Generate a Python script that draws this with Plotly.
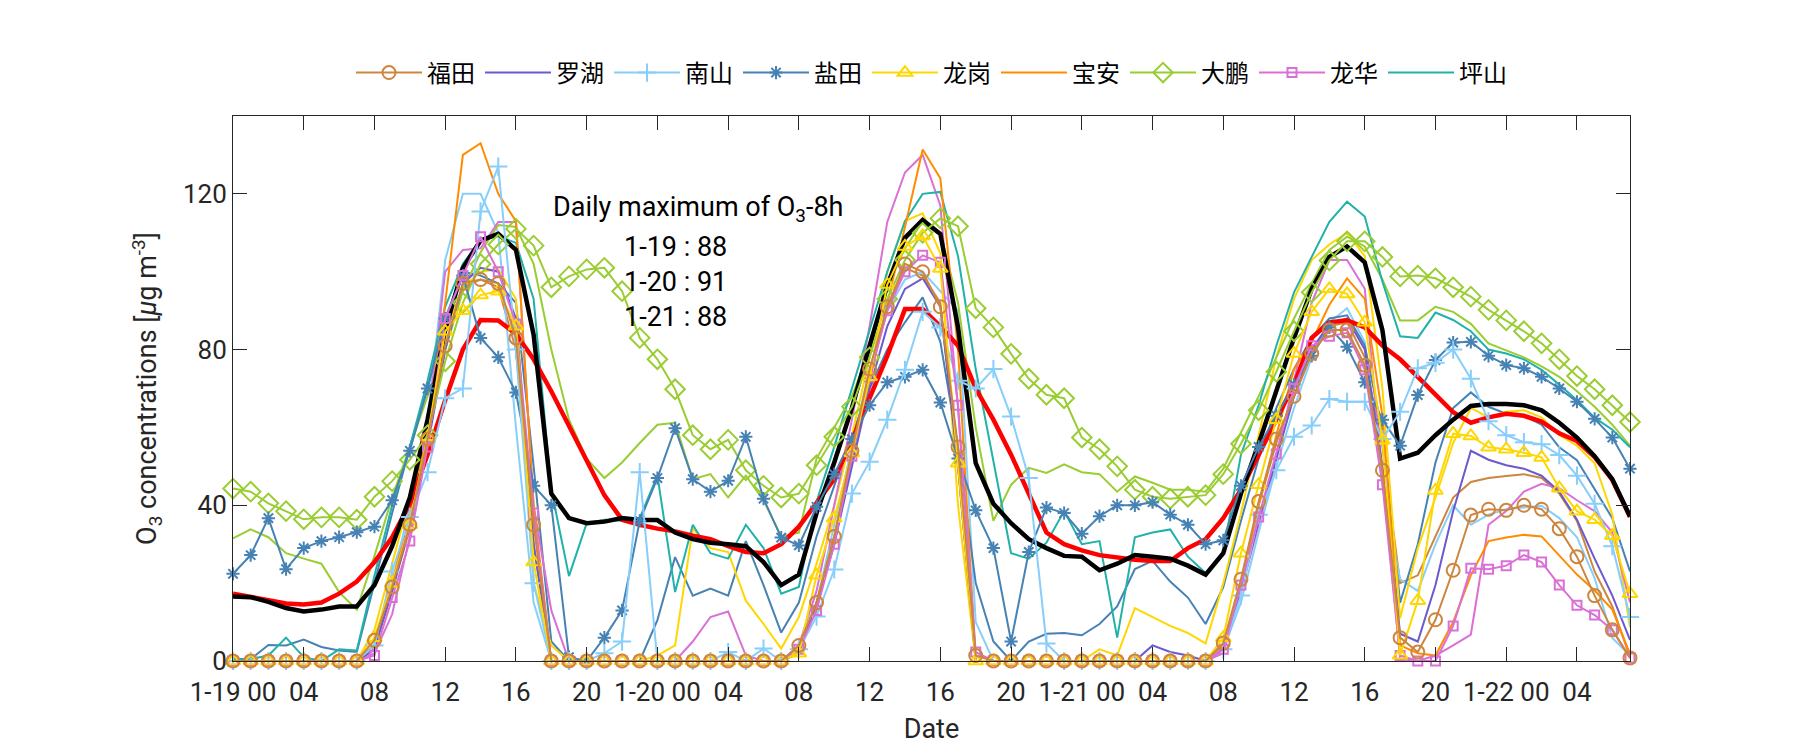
import plotly.graph_objects as go

hours = list(range(80))
tick_hours = list(range(0, 80, 4))
tick_text = ["1-19 00", "04", "08", "12", "16", "20",
             "1-20 00", "04", "08", "12", "16", "20",
             "1-21 00", "04", "08", "12", "16", "20",
             "1-22 00", "04"]
y_ticks = [0, 40, 80, 120]

# ---- stations with markers (legend) ----
futian_obs = [0, 0, 0, 0, 0, 0, 0, 0,
              5.3, 19, 35, 57, 81, 97, 98, 97, 83, 35,
              0, 0, 0, 0, 0, 0, 0, 0, 0, 0, 0, 0, 0, 0,
              4, 15, 32, 54, 75, 91, 102, 100, 91, 55,
              1.4, 0, 0, 0, 0, 0, 0, 0, 0, 0, 0, 0, 0, 0,
              4.6, 21, 41, 57, 68, 79, 85, 85, 76, 49,
              6, 2.3, 10.6, 23.3, 37.5, 39, 38.7, 40, 39, 34, 26.8, 16.8, 8, 0.8]
luohu = [0, 0, 0, 0, 0, 0, 0, 0,
         3, 18, 35, 55, 80, 97, 101, 100, 88, 30,
         0, 0, 0, 0, 0, 0, 0, 0, 0, 0, 0, 0, 0, 0,
         2, 15, 30, 50, 70, 86, 95.6, 98.3, 91, 50,
         0, 0, 0, 0, 0, 0, 0, 0, 0, 0, 4, 2.3, 1.4, 0,
         3, 18, 36, 52, 68, 80, 86.6, 88, 80, 50,
         7, 5, 19.5, 38.5, 54, 51.7, 50.3, 49.4, 47.6, 43.5, 36.3, 26.3, 16.8, 5.4]
nanshan_obs = [0, 0, 0, 0, 0, 0, 0, 0,
               4, 23, 37, 48.5, 67.5, 70, 115.5, 127, 80, 20,
               0, 0, 0, 2, 5, 48.5, 0, 0, 0, 0, 2.3, 0, 3.2, 0,
               3, 11.4, 23.5, 43, 51.2, 62, 74.8, 89.7, 85.7, 72,
               70, 75, 62.8, 47, 4.5, 0, 0, 0, 0, 0, 0, 0, 0, 0,
               3, 16.8, 37.6, 49, 57.6, 60.5, 67.3, 66.6, 66.6, 57,
               64, 75.2, 76.6, 80, 72.5, 61.6, 58, 56.2, 55.7, 52.9, 47.6, 40.4, 29.5, 11.3]
yantian_obs = [22.4, 27.2, 36.7, 23.6, 29, 30.8, 31.8, 33.1,
               34.5, 41.3, 54, 70, 88, 99, 83, 78, 69, 45,
               40, 1, 0, 6, 13, 36, 47, 59.8, 46.7, 43.5, 46.3, 57.6, 41.7, 31.7,
               29.7, 39.6, 48, 57, 65.7, 71.6, 73, 74.8, 66.4, 52,
               38.7, 29, 5, 28, 39.4, 38, 32.7, 37.2, 40, 40, 40.8, 37.6, 35, 30,
               31, 45, 55, 63, 71, 78.4, 85.7, 80.7, 71.6, 62,
               55.3, 68.3, 77.3, 81.8, 82, 78.4, 76, 75.2, 73, 70, 66.6, 62.2, 57.4, 49.4]
longgang_obs = [0, 0, 0, 0, 0, 0, 0, 0,
                6, 20, 35, 57.6, 84.7, 90, 94, 95, 86, 25.4,
                0, 0, 0, 0, 0, 0, 0, 0, 0, 0, 0, 0, 0, 0,
                2, 22, 36.7, 53.4, 73, 96.7, 106.5, 109.2, 100.8, 50.8,
                0, 0, 0, 0, 0, 0, 0, 0, 0, 0, 0, 0, 0, 0,
                6, 27.7, 45.3, 62, 79, 89.7, 95.6, 94.3, 87, 56.7,
                1.5, 15.5, 43.8, 58.4, 57.8, 54.9, 54.4, 53.5, 52.3, 44.4, 38.5, 36.3, 32.2, 17.3]
baoan = [0, 0, 0, 0, 0, 0, 0, 0,
         4, 20, 38, 60, 92, 130, 133, 120, 113, 40,
         0, 0, 0, 0, 0, 0, 0, 0, 0, 0, 0, 0, 0, 0,
         3, 15, 32, 52, 72, 92, 112, 131.4, 124, 80,
         0, 0, 0, 0, 0, 0, 0, 0, 0, 0, 0, 0, 0, 0,
         4, 20, 40, 58, 75, 82, 91.5, 98.3, 93, 63,
         4, 2, 1.4, 10, 22, 30.8, 31.7, 32.4, 32, 27.2, 22.2, 18.1, 13.2, 1.8]
dapeng_obs = [44.3, 43.5, 40.5, 38.5, 36.4, 36.9, 36.9, 36.3,
              42.2, 46.2, 51.7, 58, 77, 92, 102, 107, 111, 106.7,
              96, 98.8, 100.6, 101, 95, 83, 77.5, 69.8, 58, 54.4, 56.8, 49, 45, 42,
              43, 50.3, 57.6, 65.3, 78, 93, 103, 110, 113.7, 111.7,
              90.6, 85.7, 78.9, 72.5, 68.4, 67.5, 57.4, 54.4, 50, 44, 42.2, 41.7, 42.2, 42.6,
              48, 55.8, 64.4, 74.3, 84.7, 94.7, 102.9, 107.8, 107.8, 103.8,
              98.8, 99, 98.3, 96, 93.6, 90.2, 87.5, 84.7, 81.6, 77.5, 73.2, 69.8, 65.7, 61.4]
longhua_obs = [0, 0, 0, 0, 0, 0, 0, 0,
               1.4, 16.3, 30.8, 55, 88, 99, 109, 100, 86.6, 38,
               0, 0, 0, 0, 0, 0, 0, 0, 0, 0, 0, 0, 0, 0,
               3, 13, 30, 52.6, 73, 90, 100, 104.2, 102.4, 65.7,
               2.3, 0, 0, 0, 0, 0, 0, 0, 0, 0, 0, 0, 0, 0,
               3, 19.5, 37, 53.2, 70, 81, 83.4, 84.3, 74.8, 45.3,
               1.4, 0, 0, 9, 23.8, 23.6, 24.5, 27.2, 25.4, 19.5, 14.3, 11.8, 8, 0.8]
pingshan = [0.5, 0.5, 1.4, 6, 1, 0, 3, 2.7,
            22, 40, 55, 72, 91, 102, 108.3, 109.2, 107.4, 93,
            44, 21.8, 35.4, 36.3, 36, 36.7, 47.6, 17.7, 35, 27.7, 26.3, 35, 29, 17.3,
            19, 41, 55, 70, 85, 100, 113, 120, 120.5, 104,
            75, 51, 27.7, 26.3, 30.4, 38.5, 30, 30.8, 6, 31.8, 33, 33.8, 26.8, 22.6,
            28, 53, 65.7, 81, 94.7, 103.8, 112.8, 118, 114.2, 97.4,
            83.4, 83, 89.5, 87.6, 84.7, 80, 79, 77.5, 74.8, 71, 67, 62.5, 59.4, 54.9]

# ---- companion series without markers (no legend) ----
futian_alt = [0, 0, 0, 0, 0, 0, 0, 0,
              4, 18, 34, 56, 80, 96, 98, 96, 80, 30,
              0, 0, 0, 0, 0, 0, 0, 0, 0, 0, 0, 0, 0, 0,
              2, 14, 30, 52, 74, 90, 101, 99, 92, 50,
              0, 0, 0, 0, 0, 0, 0, 0, 0, 0, 0, 0, 0, 0,
              4, 20, 40, 56, 68, 79, 86, 87, 78, 55,
              20, 22, 32, 42, 46, 47, 47.5, 48, 47, 43, 36, 23, 14, 1]
nanshan_alt = [0, 0, 0, 0, 0, 0, 0, 0,
               3, 20, 40, 62, 103, 120, 120, 110, 60, 15,
               0, 0, 0, 0, 0, 0, 0, 0, 0, 0, 0, 0, 0, 0,
               2, 15, 35, 55, 75, 90, 98, 100, 95, 90,
               10, 0, 0, 0, 0, 0, 0, 0, 0, 0, 0, 0, 0, 0,
               3, 15, 33, 50, 65, 78, 87, 90.6, 82, 45,
               21, 18, 30, 40, 35, 37.6, 39, 39.4, 39.9, 36.7, 31.8, 21.3, 5.9, 1.4]
yantian_alt = [0, 0.5, 4.1, 4, 5.5, 3.6, 2.7, 2.3,
               20, 38, 55, 70, 88, 100, 99, 97, 92, 50,
               5, 0, 0, 0, 0, 0, 10.5, 26.7, 16.8, 18.6, 16.8, 30.8, 19.5, 7.3,
               15, 32, 45, 58, 70, 80, 87, 93.4, 82, 55,
               20, 5, 0, 5, 7, 7.2, 6.6, 9.5, 14, 23.6, 25.7, 20.4, 16.3, 9.5,
               19, 36, 52, 65, 75, 83, 88, 88.8, 81, 59,
               15, 30, 51, 65, 69, 65.3, 63.5, 63, 60.7, 54.9, 51.6, 44, 36.7, 23]
longgang_alt = [0, 0, 0, 0, 0, 0, 0, 0,
                8, 25, 42, 62, 84, 96, 100, 100.6, 93, 20,
                4, 0, 0, 0, 0, 0, 1.4, 4, 34, 29, 28, 15.5, 9.5, 3.2,
                11.3, 25, 40, 58, 78, 100, 113, 115, 104.7, 40,
                0, 0, 0, 0, 0, 0, 0, 3, 1.4, 13.6, 11.4, 9, 7.2, 4.5,
                20, 38, 58, 78, 93, 103, 107, 110, 104, 70,
                11, 29, 42, 56, 65, 62.6, 64, 64.4, 62.6, 58, 55.3, 50.8, 37.6, 8.6]
dapeng_alt = [31.5, 33.8, 31.8, 27.7, 26.3, 25, 17.7, 13.2,
              27, 42, 55, 68, 80, 95, 105, 112, 111.5, 102,
              80, 62, 52, 47, 51, 56, 60.7, 61.2, 46.7, 48, 42, 47.6, 41.3, 32,
              33, 52, 60, 68, 80, 96, 106, 113, 110, 92,
              60, 36, 45.3, 49.6, 48.3, 50.5, 48.5, 48, 43.5, 47.4, 45.8, 44, 44, 43.5,
              49.4, 58.5, 68, 78, 88, 97, 105.6, 109, 106.5, 98,
              87.5, 87.5, 91, 89.7, 86.6, 81.6, 79.8, 78, 75.7, 73, 69.3, 65.3, 60.7, 55.3]
longhua_alt = [0, 0, 0, 0, 0, 0, 0, 0,
               2, 12, 32, 60, 100, 105.6, 106, 112.8, 112.8, 40,
               13, 0, 0, 0, 0, 0, 0, 0, 5, 11.3, 12.7, 1.4, 0, 0,
               4, 18, 40, 62, 86, 112.8, 125.5, 130, 117, 65,
               0, 0, 0, 0, 0, 0, 0, 0, 0, 0, 0, 0, 0, 0,
               2, 18, 35, 52, 72, 92, 103, 103, 95.6, 49,
               0.5, 0, 1.4, 4, 6.8, 35, 38.5, 43.5, 45.5, 44.4, 41.3, 38.5, 33, 15]

# ---- thick summary lines ----
mean_black = [16.6, 16.4, 15.2, 13.6, 12.7, 13.2, 14, 14,
              19.5, 29.5, 42, 62, 85, 101, 108, 109.7, 105.6, 83.8,
              43, 36.7, 35.4, 35.8, 36.7, 36.2, 36.2, 33, 31.3, 30.4, 30, 29.5, 25.4, 19.5,
              22.2, 38, 51, 65, 81, 96.5, 108.7, 113.3, 109.7, 85.7,
              50.8, 40.4, 35.4, 31.3, 29, 27, 26.8, 23.3, 25, 27.2, 26.8, 26.3, 24.5, 22.2,
              27.7, 43, 55.8, 69.3, 83, 95.6, 103.8, 106.5, 102.4, 85,
              52, 53.5, 58, 62, 65.5, 66, 66, 65.7, 64.4, 61.2, 57.4, 52.6, 46.7, 37.2]
avg8h_red = [17.3, 16.4, 15.5, 14.8, 14.5, 15, 17.3, 20.4,
             25.4, 31.8, 40.4, 53, 67, 80, 87.6, 87.5, 84, 77.5,
             69.3, 60.3, 51.7, 42.6, 36.3, 35, 34, 33.3, 32.2, 31.3, 29.5, 28, 27.7, 30,
             34.5, 40.4, 46.7, 56.7, 67.5, 78.4, 90.4, 90.4, 86, 81,
             70, 62, 53, 43, 33, 30, 28.4, 27.2, 26.6, 26, 25.7, 25.7, 29, 31.3,
             36.7, 44, 53, 62, 71, 83, 87, 87.5, 85.7, 81,
             77.5, 73, 68.4, 63.9, 61.2, 62.6, 63.5, 63, 61.5, 58.5, 56.5, 52.4, 46.5, 37]

note_title = "Daily maximum of O<sub>3</sub>-8h"
note_days = ["1-19", "1-20", "1-21"]
note_values = [88, 91, 88]

C = {
    "福田": "#CD853F", "罗湖": "#6A5ACD", "南山": "#87CEFA", "盐田": "#4682B4",
    "龙岗": "#FFD700", "宝安": "#FF8C00", "大鹏": "#9ACD32", "龙华": "#DA70D6",
    "坪山": "#20B2AA",
}

fig = go.Figure()
LW = 2

def plain(y, color, name=None, rank=None, show=False):
    fig.add_trace(go.Scatter(
        x=hours, y=y, mode="lines", name=name or "", showlegend=show,
        legendrank=rank if rank else 1000,
        line=dict(color=color, width=LW), cliponaxis=False, hoverinfo="skip"))

def marked(y, color, name, rank, symbol, size):
    fig.add_trace(go.Scatter(
        x=hours, y=y, mode="lines+markers", name=name, legendrank=rank,
        line=dict(color=color, width=LW),
        marker=dict(symbol=symbol, size=size, color=color,
                    line=dict(color=color, width=2)),
        cliponaxis=False))

# companion lines first
plain(futian_alt, C["福田"])
plain(nanshan_alt, C["南山"])
plain(yantian_alt, C["盐田"])
plain(longgang_alt, C["龙岗"])
plain(dapeng_alt, C["大鹏"])
plain(longhua_alt, C["龙华"])
# legend lines without markers
plain(pingshan, C["坪山"], "坪山", 9, True)
plain(baoan, C["宝安"], "宝安", 6, True)
plain(luohu, C["罗湖"], "罗湖", 2, True)
# thick lines
fig.add_trace(go.Scatter(x=hours, y=avg8h_red, mode="lines", showlegend=False,
                         line=dict(color="#FF0000", width=4.5), cliponaxis=False))
fig.add_trace(go.Scatter(x=hours, y=mean_black, mode="lines", showlegend=False,
                         line=dict(color="#000000", width=4.5), cliponaxis=False))
# marked lines
marked(dapeng_obs, C["大鹏"], "大鹏", 7, "diamond-open", 15)
marked(yantian_obs, C["盐田"], "盐田", 4, "asterisk-open", 11)
marked(nanshan_obs, C["南山"], "南山", 3, "cross-thin-open", 13)
marked(longhua_obs, C["龙华"], "龙华", 8, "square-open", 9)
marked(longgang_obs, C["龙岗"], "龙岗", 5, "triangle-up-open", 13)
marked(futian_obs, C["福田"], "福田", 1, "circle-open", 13)

AX = "#262626"
FS = 26
fig.update_xaxes(range=[0, 79], tickvals=tick_hours, ticktext=tick_text,
                 ticks="inside", ticklen=14, tickwidth=1, tickcolor=AX,
                 showline=True, linecolor=AX, linewidth=1, mirror="ticks",
                 showgrid=False, zeroline=False, ticklabelstandoff=8,
                 title=dict(text="Date", font=dict(size=27, color=AX), standoff=12),
                 tickfont=dict(size=FS, color=AX))
fig.update_yaxes(range=[0, 140], tickvals=y_ticks,
                 ticks="inside", ticklen=14, tickwidth=1, tickcolor=AX,
                 showline=True, linecolor=AX, linewidth=1, mirror="ticks",
                 showgrid=False, zeroline=False,
                 title=dict(text="O<sub>3</sub> concentrations [<i>μ</i>g m<sup>-3</sup>]",
                            font=dict(size=27, color=AX), standoff=18),
                 tickfont=dict(size=FS, color=AX))

fig.add_annotation(x=18, y=116.2, xref="x", yref="y", text=note_title,
                   showarrow=False, xanchor="left", yanchor="middle",
                   font=dict(size=27, color="#000000"))
for i, (d, v) in enumerate(zip(note_days, note_values)):
    fig.add_annotation(x=22, y=106.3 - 9 * i, xref="x", yref="y",
                       text=f"{d} : {v}", showarrow=False,
                       xanchor="left", yanchor="middle",
                       font=dict(size=27, color="#000000"))

fig.update_layout(
    width=1800, height=750,
    margin=dict(l=233, r=170, t=116, b=87),
    plot_bgcolor="white", paper_bgcolor="white",
    font=dict(family="Roboto, 'Noto Sans CJK SC'", size=FS, color=AX),
    legend=dict(orientation="h", x=0.5, xanchor="center", y=1.079, yanchor="middle",
                font=dict(family="'Noto Sans CJK SC'", size=24, color="#000000"),
                bgcolor="rgba(0,0,0,0)", itemwidth=66),
    hovermode=False,
)

fig.write_html("out.html", config={"displayModeBar": False},
               post_script="document.body.style.margin='0';")
